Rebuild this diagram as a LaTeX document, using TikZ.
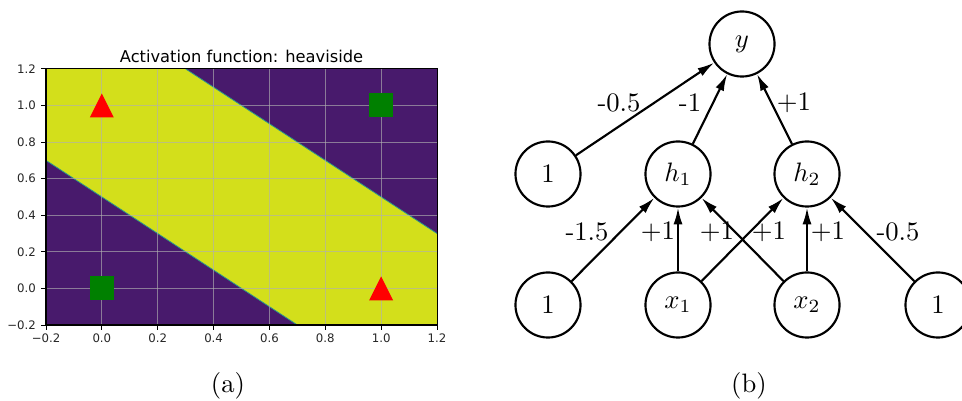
\documentclass[tikz,border=0pt]{standalone}
\usepackage{fontspec}
\newfontfamily\mplfont{DejaVu Sans}
\usetikzlibrary{arrows.meta}
\definecolor{vpurple}{RGB}{72,26,108}
\definecolor{vyellow}{RGB}{211,223,27}
\definecolor{vedge}{RGB}{40,150,140}
\definecolor{mgreen}{RGB}{0,128,0}
\definecolor{gridgray}{RGB}{176,176,176}
\definecolor{ticktext}{RGB}{38,38,38}
\begin{document}
\begin{tikzpicture}[x=0.375pt,y=-0.375pt,
  neuron/.style={circle,draw,line width=0.8pt,minimum size=24.4pt,inner sep=0pt,font=\normalsize},
  conn/.style={line width=0.8pt,-{Latex[length=6.3pt,width=3.4pt]}},
  wlabel/.style={inner sep=0pt,font=\normalsize},
  ticklbl/.style={inner sep=0pt,text=ticktext,font=\mplfont\fontsize{4.4pt}{5pt}\selectfont},
  gridline/.style={gridgray,opacity=0.65,line width=0.4pt},
  tickmark/.style={line width=0.35pt},
  caption/.style={anchor=base,inner sep=0pt,font=\normalsize}]
\useasboundingbox (0,0) rectangle (962,401);

% ---------- panel (a): plot ----------
\node[anchor=base,inner sep=0pt,font=\mplfont\fontsize{6.1pt}{7pt}\selectfont] (title) at (241.5,63) {Activation function: heaviside};
\begin{scope}[shift={(101.86,288.4)}]
\begin{scope}[x=104.74pt,y=68.59pt]
  \fill[vpurple] (-0.2,-0.2) rectangle (1.2,1.2);
  \fill[vyellow] (-0.2,0.7) -- (0.7,-0.2) -- (1.2,-0.2) -- (1.2,0.3) -- (0.3,1.2) -- (-0.2,1.2) -- cycle;
  \draw[vedge,line width=0.3pt] (-0.2,0.7) -- (0.7,-0.2) (0.3,1.2) -- (1.2,0.3);
  \foreach \v in {0,0.2,0.4,0.6,0.8,1.0}{
    \draw[gridline] (\v,-0.2) -- (\v,1.2);
    \draw[gridline] (-0.2,\v) -- (1.2,\v);
  }
  \draw[line width=0.4pt] (-0.2,-0.2) rectangle (1.2,1.2);
  \foreach \v/\t in {-0.2/{−0.2},0/{0.0},0.2/{0.2},0.4/{0.4},0.6/{0.6},0.8/{0.8},1.0/{1.0},1.2/{1.2}}{
    \draw[tickmark] (\v,-0.2) -- ++(0,-1.9pt);
    \node[ticklbl,anchor=north] at ([yshift=-3.2pt]\v,-0.2) {\t};
    \draw[tickmark] (-0.2,\v) -- ++(-1.9pt,0);
    \node[ticklbl,anchor=east] at ([xshift=-3.6pt]-0.2,\v) {\t};
  }
  % markers
  \fill[mgreen] ([shift={(-4.5pt,-4.5pt)}]0,0) rectangle ++(9pt,9pt);
  \fill[mgreen] ([shift={(-4.5pt,-4.5pt)}]1,1) rectangle ++(9pt,9pt);
  \fill[red] ([shift={(0,4.5pt)}]0,1) -- ++(4.5pt,-9pt) -- ++(-9pt,0) -- cycle;
  \fill[red] ([shift={(0,4.5pt)}]1,0) -- ++(4.5pt,-9pt) -- ++(-9pt,0) -- cycle;
\end{scope}
\end{scope}

% ---------- panel (b): network ----------
\node[neuron] (y)  at (742,44)  {$y$};
\node[neuron] (b1) at (548,174) {1};
\node[neuron] (h1) at (678,174) {$h_1$};
\node[neuron] (h2) at (807,174) {$h_2$};
\node[neuron] (b2) at (548,305) {1};
\node[neuron] (x1) at (678,305) {$x_1$};
\node[neuron] (x2) at (807,305) {$x_2$};
\node[neuron] (b3) at (938,305) {1};

\draw[conn] (b1) -- (y);
\draw[conn] (h1) -- (y);
\draw[conn] (h2) -- (y);
\draw[conn] (b2) -- (h1);
\draw[conn] (x1) -- (h1);
\draw[conn] (x2) -- (h1);
\draw[conn] (x1) -- (h2);
\draw[conn] (x2) -- (h2);
\draw[conn] (b3) -- (h2);

\node[wlabel] (l1) at (619,103) {-0.5};
\node[wlabel] (l2) at (690,103) {-1};
\node[wlabel] (l3) at (794,103) {+1};
\node[wlabel] (l4) at (587,232) {-1.5};
\node[wlabel] (l5) at (658,232) {+1};
\node[wlabel] (l6) at (717,232) {+1};
\node[wlabel] (l7) at (769,232) {+1};
\node[wlabel] (l8) at (828,232) {+1};
\node[wlabel] (l9) at (898,232) {-0.5};

\node[caption] (capa) at (228,392) {(a)};
\node[caption] (capb) at (749,392) {(b)};
\end{tikzpicture}
\end{document}
